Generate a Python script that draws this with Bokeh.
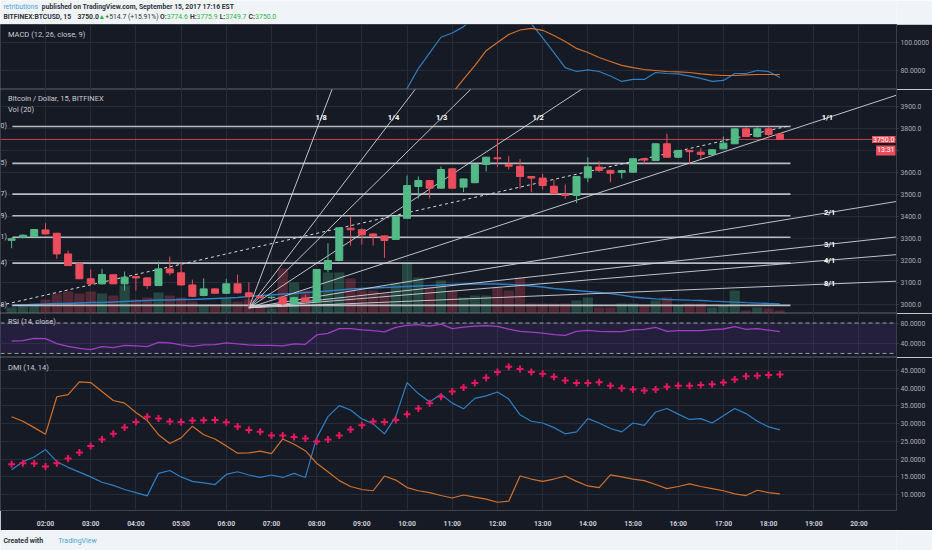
import pandas as pd
from bokeh.plotting import figure
from bokeh.layouts import column
from bokeh.models import Range1d, FixedTicker, NumeralTickFormatter, Label, BoxAnnotation, Span, ColumnDataSource
from bokeh.core.properties import value
from bokeh.embed import file_html
from bokeh.resources import INLINE

# ---------------- data ----------------
bar_times = pd.date_range("2017-09-15 01:15", "2017-09-15 18:15", freq="15min")

opens = [3291, 3305, 3308, 3338, 3323, 3229, 3184, 3116, 3093, 3134,
         3093, 3126, 3120, 3085, 3161, 3143, 3088, 3040, 3070, 3050,
         3093, 3052, 3035, 3030, 3032, 3002, 3029, 3012, 3158, 3199,
         3346, 3339, 3320, 3311, 3295, 3391, 3536, 3563, 3528, 3616,
         3533, 3553, 3636, 3666, 3636, 3628, 3581, 3574, 3537, 3499,
         3495, 3575, 3624, 3609, 3600, 3601, 3662, 3654, 3730, 3669,
         3700, 3692, 3681, 3707, 3730, 3798, 3763, 3798, 3774.6]
highs = [3303, 3318, 3342, 3369, 3325, 3244, 3186, 3158, 3161, 3136,
         3149, 3128, 3122, 3194, 3217, 3191, 3112, 3118, 3072, 3116,
         3135, 3100, 3040, 3036, 3038, 3034, 3044, 3160, 3278, 3350,
         3399, 3345, 3322, 3313, 3401, 3586, 3581, 3565, 3627, 3618,
         3572, 3638, 3671, 3753, 3674, 3660, 3583, 3593, 3566, 3545,
         3583, 3669, 3651, 3612, 3612, 3664, 3667, 3732, 3776, 3702,
         3703, 3710, 3706, 3763, 3800, 3805, 3805, 3808, 3775.9]
lows = [3255, 3300, 3306, 3318, 3207, 3174, 3114, 3090, 3090, 3091,
        3062, 3062, 3070, 3083, 3131, 3086, 3032, 3036, 3048, 3046,
        3050, 2984, 3026, 3024, 2994, 2998, 3010, 3010, 3146, 3195,
        3267, 3272, 3267, 3211, 3293, 3389, 3481, 3482, 3526, 3526,
        3510, 3551, 3604, 3624, 3613, 3525, 3510, 3522, 3500, 3480,
        3460, 3555, 3601, 3555, 3572, 3599, 3640, 3652, 3667, 3665,
        3639, 3662, 3679, 3705, 3728, 3761, 3758, 3765, 3749.7]
closes = [3298, 3314, 3340, 3320, 3229, 3176, 3116, 3093, 3135, 3093,
          3123, 3120, 3085, 3161, 3143, 3088, 3036, 3070, 3050, 3093,
          3052, 3035, 3030, 3032, 3002, 3030, 3014, 3158, 3199, 3348,
          3339, 3316, 3309, 3290, 3399, 3540, 3563, 3528, 3613, 3528,
          3570, 3636, 3669, 3662, 3628, 3581, 3574, 3540, 3503, 3495,
          3581, 3626, 3609, 3596, 3608, 3662, 3656, 3730, 3669, 3700,
          3694, 3682, 3703, 3733, 3798, 3763, 3798, 3772, 3750.0]
volumes = [60, 80, 100, 140, 200, 220, 200, 220, 200, 180,
           280, 140, 160, 210, 180, 160, 120, 80, 90, 150,
           120, 140, 60, 50, 450, 310, 230, 230, 410, 410,
           350, 230, 230, 200, 300, 510, 360, 260, 330, 230,
           160, 180, 180, 260, 230, 360, 100, 100, 100, 100,
           130, 160, 60, 60, 100, 100, 80, 130, 160, 80,
           100, 100, 60, 80, 230, 30, 60, 50, 30]
volume_ma = [80, 85, 90, 95, 100, 100, 105, 110, 110, 115,
             120, 125, 130, 135, 135, 140, 140, 145, 150, 155,
             160, 170, 180, 185, 195, 200, 210, 215, 225, 235,
             245, 250, 255, 260, 265, 270, 275, 280, 285, 290,
             295, 295, 295, 295, 290, 285, 275, 265, 250, 240,
             230, 220, 210, 198, 183, 165, 155, 147, 140, 137,
             133, 130, 123, 118, 113, 108, 104, 100, 97]

macd_times = pd.date_range("2017-09-15 09:45", "2017-09-15 18:15", freq="15min")
macd_line = [55, 67.3, 81.4, 92.5, 103.5, 106.5, 111, 118, 125, 128,
             126, 120, 113, 103, 92.7, 82, 79.3, 80.4, 79.3, 76.1,
             72.3, 73.7, 73.7, 78.6, 77.9, 77.6, 76.1, 74.4, 72.3, 73,
             77.9, 77.9, 80, 79.3, 75.1]
signal_times = pd.date_range("2017-09-15 11:00", "2017-09-15 18:15", freq="15min")
signal_line = [64, 74, 83.5, 94, 99.8, 105.4, 108.6, 109.7, 108.4, 104.7,
               100.5, 95.6, 92.7, 89.2, 86.4, 83.6, 82.1, 80.7, 80, 79.3,
               79, 78.6, 77.6, 76.9, 76.5, 76.5, 76.9, 77.2, 77.2, 77.2]

rsi = [44.3, 45.3, 49.8, 49.2, 39.4, 34.1, 30.2, 27.6, 33.5, 31.6,
       36.1, 34.9, 33.5, 42.0, 40.8, 36.9, 34.1, 36.9, 37.5, 40.8,
       38.8, 36.9, 36.1, 36.1, 34.9, 38.8, 38.0, 56.5, 59.6, 68.8,
       68.8, 66.3, 64.9, 62.4, 71.4, 75.3, 76.7, 74.1, 78.0, 68.8,
       71.8, 73.7, 74.7, 73.3, 67.8, 63.5, 62.0, 60.0, 57.1, 55.7,
       63.5, 65.5, 63.5, 62.9, 62.9, 66.9, 67.5, 71.4, 63.5, 64.9,
       64.9, 64.9, 66.9, 68.2, 72.7, 67.5, 68.8, 65.9, 62.9]

adx = [18.6, 18.85, 18.75, 17.95, 18.85, 20.2, 21.9, 23.75, 25.55, 27.15,
       28.9, 30.45, 31.95, 31.5, 30.65, 30.45, 30.9, 31.0, 31.05, 30.4,
       29.2, 28.25, 27.7, 26.7, 26.7, 26.25, 25.8, 25.0, 25.55, 26.7,
       28.4, 29.55, 30.65, 30.45, 31.05, 32.7, 34.3, 35.8, 37.6, 39.1,
       40.2, 41.45, 42.95, 44.55, 46.05, 45.4, 44.55, 44.1, 43.25, 42.15,
       41.5, 41.5, 41.7, 40.7, 40.0, 39.65, 39.4, 39.65, 40.45, 40.7,
       40.7, 40.9, 41.1, 41.6, 42.5, 43.4, 43.5, 43.75, 43.9]
di_plus = [17.05, 19.3, 20.6, 22.7, 19.3, 17.7, 16.35, 15.0, 13.5, 12.6,
           11.45, 10.55, 9.65, 16.0, 16.8, 15.0, 13.75, 13.3, 12.85, 15.7,
           16.45, 15.55, 14.85, 15.55, 14.85, 16.0, 14.85, 26.0, 32.0, 35.1,
           33.85, 31.35, 30.0, 27.15, 32.0, 41.6, 38.5, 36.1, 38.3, 35.8,
           34.2, 37.15, 37.85, 38.95, 36.95, 32.5, 30.7, 30.2, 28.9, 27.15,
           27.7, 31.45, 30.2, 28.65, 27.7, 30.2, 29.55, 33.3, 34.3, 32.7,
           31.2, 31.45, 30.2, 32.25, 34.3, 32.85, 30.7, 29.1, 28.25]
di_minus = [31.95, 30.7, 28.9, 27.05, 37.6, 38.2, 41.8, 41.6, 39.1, 36.55,
            35.8, 33.15, 30.9, 26.9, 24.4, 26.0, 29.3, 26.9, 25.7, 23.75,
            21.7, 21.8, 22.25, 21.55, 25.7, 24.2, 22.4, 18.85, 16.45, 13.95,
            12.3, 11.45, 11.1, 15.25, 14.1, 12.0, 11.1, 10.55, 9.75, 9.05,
            9.9, 9.3, 8.75, 7.85, 8.15, 15.25, 14.4, 13.75, 14.4, 15.25,
            13.75, 12.45, 12.0, 15.55, 15.0, 14.4, 13.95, 12.85, 11.7, 12.3,
            13.05, 12.3, 11.7, 11.1, 10.2, 9.75, 11.25, 10.55, 10.2]

fib_prices = [3809, 3641, 3501, 3403, 3305, 3187, 2995]
fib_tags = ["0)", "5)", "7)", "9)", "1)", "4)", "8)"]
fib_from, fib_to = "01:16", "18:29"

fan_names = ["1/8", "1/4", "1/3", "1/2", "1/1", "2/1", "3/1", "4/1", "8/1"]
fan_origin_time, fan_origin_price = "06:30", 2984.0
fan_unit_slope = 67.5          # $ per hour on the 1/1 line

trend_times = ["01:00", "18:29"]
trend_prices = [2995, 3813]

last_price, countdown = 3750.0, "13:31"
hour_ticks = list(range(2, 21))
price_ticks = list(range(3000, 4000, 100))
hidden_price_labels = [3700]   # covered by the last-price tag

# ---------------- helpers ----------------
def hrs(t):
    if isinstance(t, str):
        h, m = t.split(":")
        return int(h) + int(m) / 60
    return t.hour + t.minute / 60

xs = [hrs(t) for t in bar_times]
W = 932
BG, GRID, SEP = "#161a25", "#262b38", "#3a3f4c"
TXT, AXC = "#c9ccd4", "#a9acb5"
GREEN, RED = "#53b987", "#eb4d5c"
BLUE, ORANGE, PINK, PURPLE = "#2e7fc4", "#d2702a", "#e8175d", "#ab3fc4"
FONT = value("Roboto")
xr = Range1d(1.004, 20.83)
RB = 36


def pane(h, y0, y1, ticks, fmt, bottom_axis=False):
    p = figure(width=W, height=h, x_range=xr, y_range=Range1d(y0, y1),
               output_backend="svg", toolbar_location=None,
               x_axis_location="below" if bottom_axis else None,
               y_axis_location="right",
               min_border_left=0, min_border_right=RB, min_border_top=0,
               min_border_bottom=12 if bottom_axis else 0,
               background_fill_color=BG, border_fill_color=BG,
               outline_line_color=SEP)
    ya = p.yaxis[0]
    ya.ticker = FixedTicker(ticks=ticks)
    ya.formatter = NumeralTickFormatter(format=fmt)
    ya.major_label_text_font = "Roboto"
    ya.major_label_text_font_size = "6.8px"
    ya.major_label_text_color = AXC
    ya.axis_line_color = SEP
    ya.major_tick_line_color = SEP
    ya.major_tick_out = 2
    ya.major_tick_in = 0
    ya.minor_tick_line_color = None
    ya.major_label_standoff = 2
    p.ygrid.ticker = FixedTicker(ticks=ticks)
    p.ygrid.grid_line_color = GRID
    p.xgrid.ticker = FixedTicker(ticks=hour_ticks)
    p.xgrid.grid_line_color = GRID
    if bottom_axis:
        xa = p.xaxis[0]
        xa.ticker = FixedTicker(ticks=hour_ticks)
        xa.major_label_overrides = {h: f"{h:02d}:00" for h in hour_ticks}
        xa.major_label_text_font = "Roboto"
        xa.major_label_text_font_size = "6.8px"
        xa.major_label_text_font_style = "bold"
        xa.major_label_text_color = TXT
        xa.axis_line_color = SEP
        xa.major_tick_line_color = None
        xa.minor_tick_line_color = None
        xa.major_label_standoff = 3
    return p


def tag(p, text, y, x=1.17, size="7.5px", color=TXT, bold=False):
    p.add_layout(Label(x=x, y=y, text=text, text_font="Roboto", text_font_size=size,
                       text_color=color, text_baseline="middle",
                       text_font_style="bold" if bold else "normal"))


def strip(h):
    f = figure(width=W, height=h, x_range=Range1d(0, W), y_range=Range1d(0, h),
               output_backend="svg", toolbar_location=None, x_axis_location=None,
               y_axis_location=None, min_border=0, background_fill_color="#f0f3f7",
               border_fill_color="#f0f3f7", outline_line_color=None)
    f.grid.visible = False
    return f


# ---------------- header ----------------
hdr = strip(24)
DARK = "#2f3542"
HGREEN = "#2fb344"
segs = [("retributions", 3, 18, "#49a6da", "normal"),
        ("published on TradingView.com, September 15, 2017 17:16 EST", 43, 18, DARK, "bold"),
        ("BITFINEX:BTCUSD, 15", 3, 8, DARK, "bold"),
        ("3750.0", 80, 8, DARK, "bold"),
        ("\u25b2", 102, 8, HGREEN, "bold"),
        ("+514.7 (+15.91%)", 109, 8, DARK, "normal"),
        ("O:", 166, 8, DARK, "bold"), ("3774.6", 173, 8, HGREEN, "normal"),
        ("H:", 197, 8, DARK, "bold"), ("3775.9", 204, 8, HGREEN, "normal"),
        ("L:", 228, 8, DARK, "bold"), ("3749.7", 234, 8, HGREEN, "normal"),
        ("C:", 258, 8, DARK, "bold"), ("3750.0", 265, 8, HGREEN, "normal")]
for t, x0, y0, c, st in segs:
    hdr.text(x=[x0], y=[y0], text=[t], text_font=FONT, text_font_size="6.8px",
             text_color=c, text_baseline="middle", text_font_style=st)

# ---------------- MACD ----------------
pm = pane(65, 66.6, 112.5, [80, 100], "0.0000")
pm.line([hrs(t) for t in macd_times], macd_line, color=BLUE, line_width=1.2)
pm.line([hrs(t) for t in signal_times], signal_line, color=ORANGE, line_width=1.2)
tag(pm, "MACD (12, 26, close, 9)", 105.4)

# ---------------- main price pane ----------------
pp = pane(224, 2958, 3977, price_ticks, "0.0")
pp.yaxis[0].major_label_overrides = {v: "" for v in hidden_price_labels}
pp.extra_y_ranges = {"vol": Range1d(0, 2240)}
up = [c >= o for o, c in zip(opens, closes)]
src = ColumnDataSource(dict(x=xs, o=opens, h=highs, l=lows, c=closes, v=volumes,
                            col=[GREEN if u else RED for u in up]))
pp.vbar(x="x", top="v", bottom=0, width=0.225, source=src, y_range_name="vol",
        fill_color="col", line_color=None, fill_alpha=0.28)
pp.line(xs, volume_ma, y_range_name="vol", color=BLUE, line_width=1.3)

fx0, fx1 = hrs(fib_from), hrs(fib_to)
for pr, tg in zip(fib_prices, fib_tags):
    pp.line([fx0, fx1], [pr, pr], color="#c9ccd2", line_width=1.6, alpha=0.9)
    pp.text(x=[xr.start], y=[pr], text=[tg], text_font=FONT, text_font_size="7px",
            text_color=TXT, text_baseline="middle")

pp.line([xr.start, xr.end], [last_price, last_price], color=RED, line_width=1, alpha=0.8)

ft0 = hrs(fan_origin_time)
for nm in fan_names:
    a, b = [int(v) for v in nm.split("/")]
    k = fan_unit_slope * b / a
    pp.segment(x0=[ft0], y0=[fan_origin_price], x1=[xr.end],
               y1=[fan_origin_price + k * (xr.end - ft0)], color="#d2d4d9",
               line_width=1, alpha=0.9)
    lx = min(19.35, ft0 + (3848 - fan_origin_price) / k)
    ly = fan_origin_price + k * (lx - ft0)
    pp.text(x=[lx], y=[ly], text=[nm], text_font=FONT, text_font_size="7.5px",
            text_color="#ffffff", text_font_style="bold", text_align="center",
            text_baseline="middle")

pp.line([hrs(t) for t in trend_times], trend_prices, color="#d6d8dc",
        line_width=1, line_dash="3 3")

pp.segment(x0="x", y0="h", x1="x", y1="l", color="col", source=src, line_width=1)
pp.vbar(x="x", top="o", bottom="c", width=0.155, source=src,
        fill_color="col", line_color="col")

tag(pp, "Bitcoin / Dollar, 15, BITFINEX", 3936)
tag(pp, "Vol (20)", 3888)
pp.add_layout(Label(x=xr.end, y=last_price, x_offset=-1, text=f"{last_price:.1f}",
                    text_font="Roboto", text_font_size="7px", text_color="#ffffff",
                    text_align="right", text_baseline="middle",
                    background_fill_color=RED, padding=1))
pp.add_layout(Label(x=xr.end, y=last_price, x_offset=-1, y_offset=-11, text=countdown,
                    text_font="Roboto", text_font_size="7px", text_color="#ffffff",
                    text_align="right", text_baseline="middle",
                    background_fill_color=RED, padding=1))

# ---------------- RSI ----------------
pr_ = pane(44, 12.0, 98.8, [40, 80], "0.0000")
pr_.add_layout(BoxAnnotation(bottom=20, top=80, fill_color="#6a3fb5", fill_alpha=0.16,
                             line_color=None))
for lvl in (80, 20):
    pr_.add_layout(Span(location=lvl, dimension="width", line_color="#9a9da6",
                        line_dash="4 3", line_width=1))
pr_.line(xs, rsi, color=PURPLE, line_width=1.3)
tag(pr_, "RSI (14, close)", 84)

# ---------------- DMI ----------------
pd_ = pane(173, 5.53, 48.67, list(range(10, 50, 5)), "0.0000", bottom_axis=True)
pd_.line(xs, di_plus, color=BLUE, line_width=1.2)
pd_.line(xs, di_minus, color=ORANGE, line_width=1.2)
pd_.scatter(xs, adx, marker="cross", size=7, line_width=2, color=PINK)
tag(pd_, "DMI (14, 14)", 45.8)

# ---------------- footer ----------------
ftr = strip(20)
ftr.text(x=[3], y=[10], text=["Created with"], text_font=FONT, text_font_size="7px",
         text_color=DARK, text_font_style="bold", text_baseline="middle")
ftr.text(x=[60], y=[10], text=["TradingView"], text_font=FONT, text_font_size="7px",
         text_color="#49a6da", text_baseline="middle")

page = column(hdr, pm, pp, pr_, pd_, ftr, spacing=0)
open("out.html", "w").write(file_html(page, INLINE))
